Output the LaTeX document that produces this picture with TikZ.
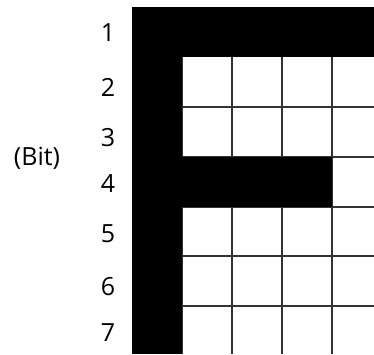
\documentclass[tikz,border=0pt]{standalone}
\usepackage{fontspec}
\setmainfont{Open Sans}
\begin{document}
\begin{tikzpicture}[x=1pt,y=-1pt,
  lbl/.style={font=\fontsize{25}{29}\selectfont, inner sep=0pt},
  gridline/.style={draw=black!80, line width=1.2pt},
  cellfill/.style={fill=black}]
\useasboundingbox (0,0) rectangle (374,354);
\fill[white] (0,0) rectangle (374,354);
% grid lines of the white cells
\foreach \x in {182,232,282,332} \draw[gridline] (\x,57) -- (\x,354);
\foreach \y in {107,157,207,256,306} \draw[gridline] (182,\y) -- (374,\y);
% black cells
\fill[cellfill] (132,7) rectangle (374,57);
\fill[cellfill] (132,7) rectangle (182,354);
\fill[cellfill] (132,157) rectangle (332,207);
% labels
\node[lbl] (n1) at (108,33) {1};
\node[lbl] (n2) at (108,87) {2};
\node[lbl] (n3) at (108,138) {3};
\node[lbl] (n4) at (108,184) {4};
\node[lbl] (n5) at (108,234) {5};
\node[lbl] (n6) at (108,287) {6};
\node[lbl] (n7) at (108,333) {7};
\node[lbl] (bit) at (37,158) {(Bit)};
\end{tikzpicture}
\end{document}
